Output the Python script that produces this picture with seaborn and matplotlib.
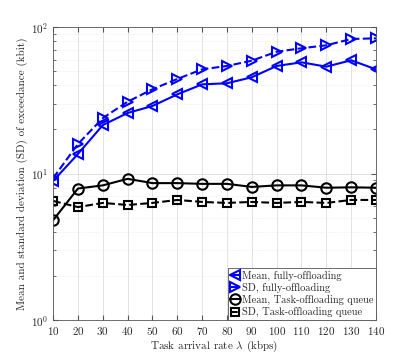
import numpy as np
import pandas as pd
import seaborn as sns
import matplotlib.pyplot as plt

# arrival rates (kbps)
rates = [10, 20, 30, 40, 50, 60, 70, 80, 90, 100, 110, 120, 130, 140]

# exceedance stats (kbit)
mean_full = [8.9, 13.6, 21.4, 25.9, 28.9, 34.7, 40.6, 41.3, 45.4, 54.2, 57.4, 53.6, 59.3, 51.4]
sd_full = [9.3, 15.9, 23.9, 30.9, 37.6, 44.2, 51.4, 54.2, 58.9, 67.8, 71.6, 75.0, 82.8, 83.7]
mean_queue = [4.8, 7.9, 8.3, 9.2, 8.6, 8.6, 8.5, 8.5, 8.1, 8.3, 8.3, 8.0, 8.05, 8.0]
sd_queue = [6.5, 5.9, 6.3, 6.1, 6.3, 6.6, 6.4, 6.3, 6.4, 6.3, 6.4, 6.3, 6.6, 6.6]

sns.set_style("ticks")
plt.rcParams['font.family'] = ['serif']
plt.rcParams['font.serif'] = ['cmr10', 'DejaVu Serif']
plt.rcParams['mathtext.fontset'] = 'cm'
plt.rcParams['axes.formatter.use_mathtext'] = True

fig = plt.figure(figsize=(4.15, 3.6), dpi=100)
ax = fig.add_axes([0.128, 0.111, 0.778, 0.814])

series = [
    (mean_full, 'Mean, fully-offloading', (0, 0, 1), '<', '-'),
    (sd_full, 'SD, fully-offloading', (0, 0, 1), '>', '--'),
    (mean_queue, 'Mean, Task-offloading queue', 'black', 'o', '-'),
    (sd_queue, 'SD, Task-offloading queue', 'black', 's', '--'),
]
for vals, name, col, mk, ls in series:
    ms = 6 if mk == 's' else 7.5
    sns.lineplot(x=rates, y=vals, ax=ax, color=col, linestyle=ls, linewidth=1.5,
                 marker=mk, markersize=ms, markerfacecolor='none',
                 markeredgecolor=col, markeredgewidth=1.5, label=name)

ax.set_yscale('log')
ax.set_ylim(1, 100)
ax.set_xlim(10, 140)
ax.set_xticks(rates)
ax.grid(True, which='major', color='#d8d8d8', linewidth=0.5)
ax.grid(True, which='minor', color='#e6e6e6', linewidth=0.5, linestyle=':')
ax.tick_params(which='both', direction='in', top=True, right=True, labelsize=8, color='#555555')
for s in ax.spines.values():
    s.set_color('#555555')
    s.set_linewidth(0.6)

ax.set_xlabel(r'Task arrival rate $\lambda$ (kbps)', fontsize=8, labelpad=1)
ax.set_ylabel('Mean and standard deviation (SD) of exceedance (kbit)', fontsize=8, labelpad=2)

leg = ax.legend(loc='lower right', fontsize=7.5, handlelength=0.9, handletextpad=0.2,
                borderpad=0.25, labelspacing=0.2, borderaxespad=0, fancybox=False,
                framealpha=1, edgecolor='#555555')
leg.get_frame().set_linewidth(0.6)

fig.savefig('out.png', dpi=100)
